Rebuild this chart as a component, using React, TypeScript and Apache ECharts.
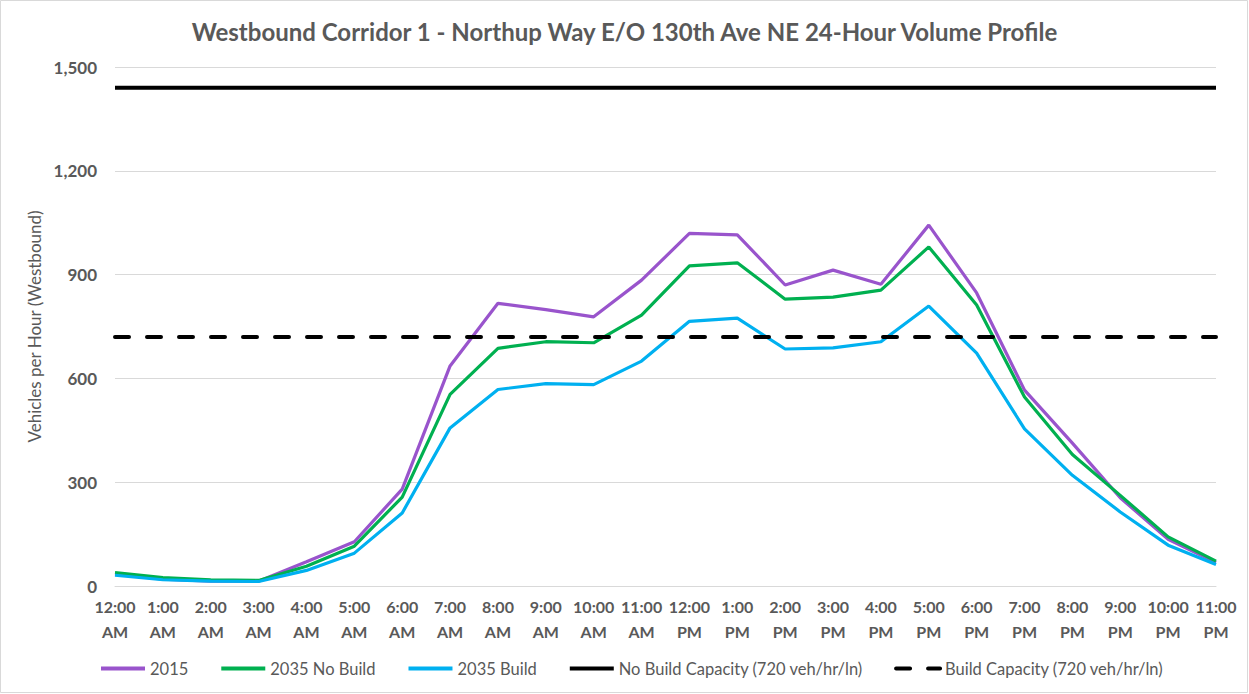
import React, { useEffect, useRef } from "react";
import * as echarts from "echarts";

const categories = [
  "12:00\nAM", "1:00\nAM", "2:00\nAM", "3:00\nAM", "4:00\nAM", "5:00\nAM",
  "6:00\nAM", "7:00\nAM", "8:00\nAM", "9:00\nAM", "10:00\nAM", "11:00\nAM",
  "12:00\nPM", "1:00\nPM", "2:00\nPM", "3:00\nPM", "4:00\nPM", "5:00\nPM",
  "6:00\nPM", "7:00\nPM", "8:00\nPM", "9:00\nPM", "10:00\nPM", "11:00\nPM",
];

const v2015 = [35, 20, 14, 14, 70, 128, 280, 636, 817, 799, 778, 884, 1019, 1015, 870, 913, 872, 1043, 847, 566, 413, 255, 135, 68];
const v2035NoBuild = [39, 24, 18, 16, 57, 115, 257, 554, 687, 706, 703, 783, 925, 934, 829, 835, 855, 980, 812, 546, 380, 262, 142, 72];
const v2035Build = [31, 18, 14, 13, 45, 95, 211, 457, 568, 585, 582, 650, 765, 774, 685, 688, 706, 809, 673, 454, 320, 214, 118, 62];
const noBuildCapacity = 1440;
const buildCapacity = 720;

const title = "Westbound Corridor 1 - Northup Way E/O 130th Ave NE 24-Hour Volume Profile";
const yAxisName = "Vehicles per Hour (Westbound)";

export default function App() {
  const ref = useRef<HTMLDivElement>(null);
  useEffect(() => {
    document.body.style.margin = "0";
    const chart = echarts.init(ref.current!, null, { renderer: "svg" });
    const font = "Lato, 'Open Sans', sans-serif";
    const gray = "#595959";
    chart.setOption({
      animation: false,
      backgroundColor: "#ffffff",
      textStyle: { fontFamily: font },
      title: {
        text: title,
        left: "center",
        top: 14,
        textStyle: { fontFamily: font, fontSize: 24, fontWeight: "bold", color: gray },
      },
      grid: { left: 115, right: 33, top: 67, bottom: 108, containLabel: false },
      legend: {
        bottom: 12,
        left: 94,
        itemWidth: 44,
        itemHeight: 4,
        itemGap: 31,
        itemStyle: { opacity: 0, borderWidth: 0 },
        lineStyle: { width: 4 },
        textStyle: { fontFamily: font, fontSize: 16.5, color: gray },
        data: [
          "2015",
          "2035 No Build",
          "2035 Build",
          "No Build Capacity (720 veh/hr/ln)",
          "Build Capacity (720 veh/hr/ln)",
        ],
      },
      xAxis: {
        type: "category",
        data: categories,
        boundaryGap: false,
        axisLine: { lineStyle: { color: "#D9D9D9", width: 1 } },
        axisTick: { show: false },
        axisLabel: {
          interval: 0,
          color: gray,
          fontFamily: font,
          fontSize: 16,
          fontWeight: "bold",
          lineHeight: 25,
          margin: 8,
        },
      },
      yAxis: {
        type: "value",
        min: 0,
        max: 1500,
        interval: 300,
        name: yAxisName,
        nameLocation: "middle",
        nameGap: 70,
        nameTextStyle: { fontFamily: font, fontSize: 17, color: gray },
        axisLine: { show: false },
        axisTick: { show: false },
        splitLine: { lineStyle: { color: "#D9D9D9", width: 1 } },
        axisLabel: {
          color: gray,
          fontFamily: font,
          fontSize: 17,
          fontWeight: "bold",
          margin: 18,
          formatter: (v: number) => v.toLocaleString("en-US"),
        },
      },
      graphic: [
        {
          type: "rect",
          shape: { x: 0.5, y: 0.5, width: 1247, height: 692 },
          style: { fill: "none", stroke: "#D9D9D9", lineWidth: 1 },
          silent: true,
        },
      ],
      series: [
        {
          name: "2015",
          type: "line",
          data: v2015,
          symbol: "none",
          lineStyle: { color: "#9954CC", width: 3.2 },
          itemStyle: { color: "#9954CC" },
        },
        {
          name: "2035 No Build",
          type: "line",
          data: v2035NoBuild,
          symbol: "none",
          lineStyle: { color: "#00B050", width: 3.2 },
          itemStyle: { color: "#00B050" },
        },
        {
          name: "2035 Build",
          type: "line",
          data: v2035Build,
          symbol: "none",
          lineStyle: { color: "#00B0F0", width: 3.2 },
          itemStyle: { color: "#00B0F0" },
        },
        {
          name: "No Build Capacity (720 veh/hr/ln)",
          type: "line",
          data: categories.map(() => noBuildCapacity),
          symbol: "none",
          lineStyle: { color: "#000000", width: 4 },
          itemStyle: { color: "#000000" },
        },
        {
          name: "Build Capacity (720 veh/hr/ln)",
          type: "line",
          data: categories.map(() => buildCapacity),
          symbol: "none",
          lineStyle: { color: "#000000", width: 4, type: [14, 18], cap: "round" },
          itemStyle: { color: "#000000" },
        },
      ],
    });
    return () => chart.dispose();
  }, []);
  return <div ref={ref} style={{ width: 1249, height: 694 }} />;
}
